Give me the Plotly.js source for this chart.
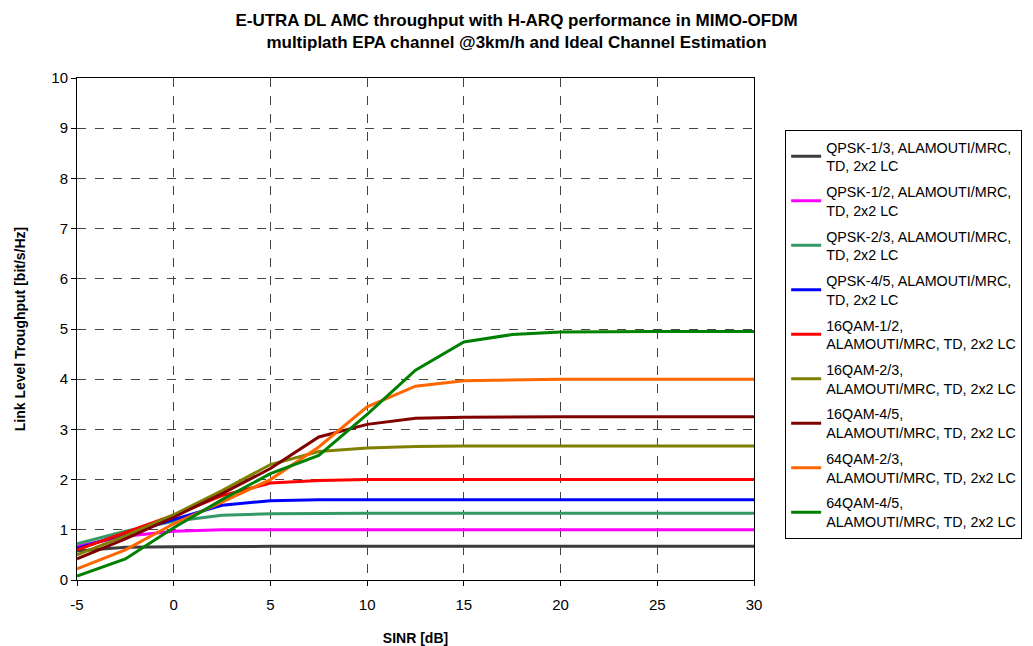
<!DOCTYPE html>
<html>
<head>
<meta charset="utf-8">
<script src="https://cdn.plot.ly/plotly-3.0.1.min.js"></script>
<style>html,body{margin:0;padding:0;background:#fff;}</style>
</head>
<body>
<div id="chart" style="width:1033px;height:646px;"></div>
<script>
const sinr = [-5, -2.5, 0, 2.5, 5, 7.5, 10, 12.5, 15, 17.5, 20, 22.5, 25, 27.5, 30];
const xTickVals = [-5, 0, 5, 10, 15, 20, 25, 30];
const xTickText = ['-5', '0', '5', '10', '15', '20', '25', '30'];

const qpsk13  = [0.58, 0.65, 0.66, 0.67, 0.67, 0.67, 0.67, 0.67, 0.67, 0.67, 0.67, 0.67, 0.67, 0.67, 0.67];
const qpsk12  = [0.67, 0.87, 0.97, 1.00, 1.00, 1.00, 1.00, 1.00, 1.00, 1.00, 1.00, 1.00, 1.00, 1.00, 1.00];
const qpsk23  = [0.72, 0.97, 1.17, 1.29, 1.32, 1.33, 1.33, 1.33, 1.33, 1.33, 1.33, 1.33, 1.33, 1.33, 1.33];
const qpsk45  = [0.63, 0.92, 1.20, 1.49, 1.58, 1.60, 1.60, 1.60, 1.60, 1.60, 1.60, 1.60, 1.60, 1.60, 1.60];
const qam16_12 = [0.60, 0.94, 1.29, 1.68, 1.93, 1.98, 2.00, 2.00, 2.00, 2.00, 2.00, 2.00, 2.00, 2.00, 2.00];
const qam16_23 = [0.50, 0.88, 1.30, 1.78, 2.30, 2.56, 2.63, 2.66, 2.67, 2.67, 2.67, 2.67, 2.67, 2.67, 2.67];
const qam16_45 = [0.42, 0.82, 1.25, 1.72, 2.22, 2.85, 3.10, 3.22, 3.24, 3.25, 3.25, 3.25, 3.25, 3.25, 3.25];
const qam64_23 = [0.22, 0.60, 1.12, 1.55, 2.00, 2.65, 3.45, 3.86, 3.97, 3.99, 4.00, 4.00, 4.00, 4.00, 4.00];
const qam64_45 = [0.08, 0.42, 1.04, 1.60, 2.12, 2.48, 3.30, 4.18, 4.74, 4.89, 4.94, 4.95, 4.95, 4.95, 4.95];

const names = [
  'QPSK-1/3, ALAMOUTI/MRC,<br>TD, 2x2 LC',
  'QPSK-1/2, ALAMOUTI/MRC,<br>TD, 2x2 LC',
  'QPSK-2/3, ALAMOUTI/MRC,<br>TD, 2x2 LC',
  'QPSK-4/5, ALAMOUTI/MRC,<br>TD, 2x2 LC',
  '16QAM-1/2,<br>ALAMOUTI/MRC, TD, 2x2 LC',
  '16QAM-2/3,<br>ALAMOUTI/MRC, TD, 2x2 LC',
  '16QAM-4/5,<br>ALAMOUTI/MRC, TD, 2x2 LC',
  '64QAM-2/3,<br>ALAMOUTI/MRC, TD, 2x2 LC',
  '64QAM-4/5,<br>ALAMOUTI/MRC, TD, 2x2 LC'
];
const series = [qpsk13, qpsk12, qpsk23, qpsk45, qam16_12, qam16_23, qam16_45, qam64_23, qam64_45];
const colors = ['#3c3c3c', '#ff00ff', '#339966', '#0000ff', '#ff0000', '#808000', '#800000', '#ff6600', '#008000'];

const traces = series.map((ys, i) => ({
  x: sinr, y: ys, name: names[i], type: 'scatter', mode: 'lines',
  legendgroup: 'g' + i,
  line: {color: colors[i], width: 3}
}));

const font = 'Arial, "Liberation Sans", sans-serif';
const layout = {
  width: 1033, height: 646,
  margin: {l: 77, r: 279, t: 78, b: 66, autoexpand: false},
  paper_bgcolor: '#fff', plot_bgcolor: '#fff',
  font: {family: font, color: '#000', size: 14},
  title: {
    text: '<b>E-UTRA DL AMC throughput with H-ARQ performance in MIMO-OFDM<br>multiplath EPA channel @3km/h and Ideal Channel Estimation</b>',
    font: {family: font, size: 17, color: '#000'},
    x: 0.5, xref: 'container', xanchor: 'center',
    y: 0.96, yref: 'container', yanchor: 'top'
  },
  xaxis: {
    range: [-5, 30], tickvals: xTickVals, ticktext: xTickText,
    showline: true, linecolor: '#000', linewidth: 1, mirror: true,
    ticks: 'outside', ticklen: 5, tickcolor: '#000', ticklabelstandoff: 6,
    showgrid: true, gridcolor: '#444', griddash: 'dash', gridwidth: 1,
    zeroline: false,
    tickfont: {family: font, size: 15},
    title: {text: '<b>SINR [dB]</b>', font: {family: font, size: 14}, standoff: 22}
  },
  yaxis: {
    range: [0, 10], dtick: 1,
    showline: true, linecolor: '#000', linewidth: 1, mirror: true,
    ticks: 'outside', ticklen: 5, tickcolor: '#000',
    showgrid: true, gridcolor: '#444', griddash: 'dash', gridwidth: 1,
    zeroline: false,
    tickfont: {family: font, size: 15},
    title: {text: '<b>Link Level Troughput [bit/s/Hz]</b>', font: {family: font, size: 14}, standoff: 22}
  },
  showlegend: true,
  legend: {
    x: 1.046, xanchor: 'left', y: 0.896, yanchor: 'top',
    bordercolor: '#000', borderwidth: 1, bgcolor: '#fff',
    font: {family: font, size: 14.3, color: '#000'},
    itemwidth: 30, tracegroupgap: 4.3
  }
};

Plotly.newPlot('chart', traces, layout, {displayModeBar: false, staticPlot: true});
</script>
</body>
</html>
